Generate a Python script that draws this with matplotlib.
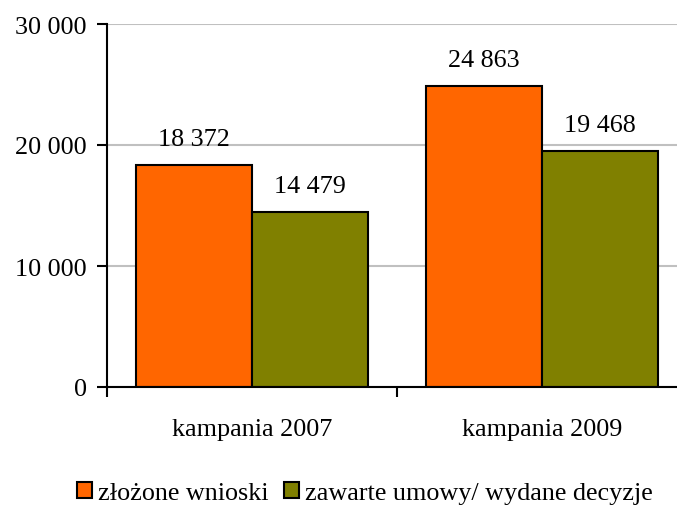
import numpy as np
import matplotlib
matplotlib.use("Agg")
import matplotlib.pyplot as plt
from matplotlib.patches import Patch
from matplotlib.ticker import FuncFormatter

# dane
categories = ["kampania 2007", "kampania 2009"]
series_names = ["złożone wnioski", "zawarte umowy/ wydane decyzje"]
wnioski = [18372, 24863]
umowy = [14479, 19468]
y_ticks = [0, 10000, 20000, 30000]
colors = ["#FF6600", "#808000"]

plt.rcParams['font.family'] = ['Liberation Serif', 'DejaVu Serif']
FS = 18.8


def fmt(v, pos=None):
    return f"{int(v):,}".replace(",", " ")


fig = plt.figure(figsize=(6.77, 5.06), dpi=100)
ax = fig.add_axes([107 / 677, 1 - 388 / 506, 580 / 677, 363 / 506])

x = np.arange(len(categories))
w = 0.4
for i, (vals, col) in enumerate(zip([wnioski, umowy], colors)):
    pos = x - w / 2 + i * w
    ax.bar(pos, vals, width=w, color=col, edgecolor="black", linewidth=1.5, zorder=3)
    for px, v in zip(pos, vals):
        ax.annotate(fmt(v), (px, v), xytext=(0, 14.5), textcoords="offset points",
                    ha="center", va="baseline", fontsize=FS)

ax.set_xlim(-0.5, 1.5)
ax.set_ylim(0, 30000)
ax.set_yticks(y_ticks)
ax.yaxis.set_major_formatter(FuncFormatter(fmt))
ax.set_xticks(x)
ax.set_xticklabels(categories)
ax.set_xticks([-0.5, 0.5, 1.5], minor=True)
ax.tick_params(axis="x", which="major", length=0, pad=22, labelsize=FS)
ax.tick_params(axis="x", which="minor", length=7.5, width=1.5, direction="out")
ax.tick_params(axis="y", length=7.5, width=1.5, direction="out", labelsize=FS, pad=7)

ax.grid(axis="y", color="#C0C0C0", linewidth=1.5, zorder=0)
ax.set_axisbelow(True)
for s in ["top", "right"]:
    ax.spines[s].set_visible(False)
for s in ["left", "bottom"]:
    ax.spines[s].set_linewidth(1.5)
    ax.spines[s].set_zorder(4)

handles = [Patch(facecolor=c, edgecolor="black", linewidth=1.5) for c in colors]
fig.legend(handles, series_names, loc="center left", bbox_to_anchor=(77 / 677, 1 - 494 / 506),
           ncol=2, frameon=False, fontsize=FS, handlelength=0.58, handleheight=0.58,
           handletextpad=0.22, columnspacing=0.6, borderpad=0, borderaxespad=0)

fig.savefig("out.png", dpi=100)
